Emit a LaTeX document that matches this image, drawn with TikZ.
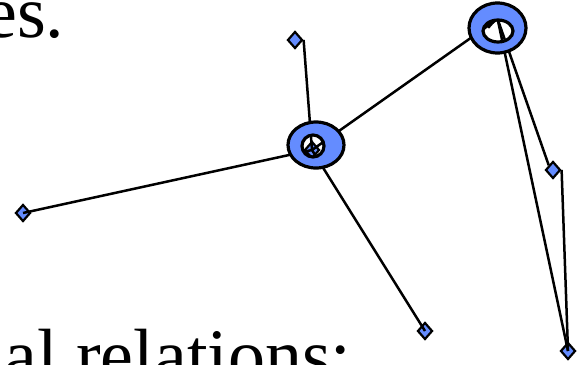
\documentclass[tikz,border=0pt]{standalone}
\usepackage{fontspec}
\setmainfont{Liberation Serif}
\usetikzlibrary{shapes.geometric}
\definecolor{hubblue}{RGB}{100,140,255}
\tikzset{
  leaf/.style={diamond, draw, line width=2.2pt, fill=hubblue, inner sep=0pt,
    minimum width=15pt, minimum height=17pt},
  link/.style={line width=2.5pt},
  ring/.style={draw, line width=3.2pt, fill=hubblue, even odd rule},
  slide/.style={inner sep=0pt, font=\fontsize{74}{80}\selectfont}
}
\begin{document}
\begin{tikzpicture}[x=1pt, y=-1pt]
  \useasboundingbox (0,0) rectangle (577,364);
  % slide text cut by the frame
  \node[slide, anchor=base west] (top) at (-16,37) {es.};
  \node[slide, anchor=base west] (bot) at (4,380) {al relations:};
  % hubs and leaves
  \node[leaf] (h1) at (312,150) {};
  \node[leaf] (h2) at (489,19) {};
  \node[leaf] (a) at (295,40) {};
  \node[leaf] (b) at (23,213) {};
  \node[leaf] (c) at (425,331) {};
  \node[leaf] (d) at (553,170) {};
  \node[leaf] (e) at (568,351) {};
  % links
  \draw[link] (a.east) -- (h1.center);
  \draw[link] (b.center) -- (h1.center);
  \draw[link] (c.center) -- (h1.center);
  \draw[link] (h1.center) -- (h2.east);
  \draw[link] (h2.east) -- (d.north west);
  \draw[link] (h2.east) -- (e.center);
  \draw[link] (d.east) -- (e.center);
  % rings over the hubs
  \draw[ring] (316,145) ellipse (28 and 23) (313,146) ellipse (11 and 11);
  \draw[ring] (497.5,28) ellipse (28.5 and 25) (498,31) ellipse (15 and 11);
\end{tikzpicture}
\end{document}
